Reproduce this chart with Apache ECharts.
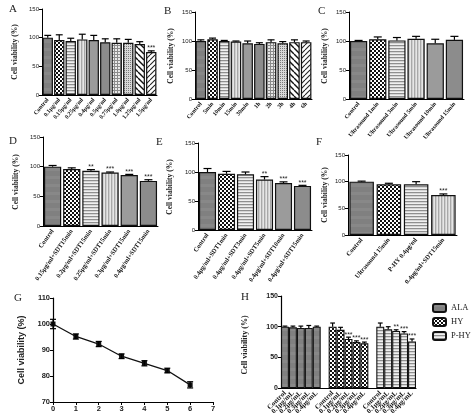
<!DOCTYPE html>
<html><head><meta charset="utf-8">
<script src="https://cdn.jsdelivr.net/npm/echarts@6/dist/echarts.min.js"></script>
<style>html,body{margin:0;padding:0;background:#fff}#c{width:474px;height:417px}</style>
</head><body><div id="c"></div>
<script>
// ---------- DATA ----------
const catsA = ['Control','0.1μg/ml','0.15μg/ml','0.25μg/ml','0.4μg/ml','0.5μg/ml','0.75μg/ml','1.0μg/ml','1.25μg/ml','1.5μg/ml'];
const valsA = [100,96,94,97,96,92,91,91,89,75];
const errA  = [4,9,5,9,8,6,7,6,4,2];
const starsA = ['','','','','','','','','','***'];

const catsB = ['Control','5min','10min','15min','30min','1h','2h','3h','4h','6h'];
const valsB = [100,103,100,99,96,95,98,96,98,98];
const errB  = [2,2,1,1,4,2,4,3,4,2];
const starsB = ['','','','','','','','','',''];

const catsC = ['Control','Ultrasound 1min','Ultrasound 3min','Ultrasound 5min','Ultrasound 10min','Ultrasound 15min'];
const valsC = [100,103,101,104,96,102];
const errC  = [1,4,5,4,7,6];
const starsC = ['','','','','',''];

const catsD = ['Control','0.15μg/ml+SDT15min','0.2μg/ml+SDT15min','0.25μg/ml+SDT15min','0.3μg/ml+SDT15min','0.4μg/ml+SDT15min'];
const valsD = [100,96,93,90,86,76];
const errD  = [2,2,2,1,1,2];
const starsD = ['','','**','***','***','***'];

const catsE = ['Control','0.4μg/ml+SDT1min','0.4μg/ml+SDT3min','0.4μg/ml+SDT5min','0.4μg/ml+SDT10min','0.4μg/ml+SDT15min'];
const valsE = [100,97,96,87,81,76];
const errE  = [6,4,4,5,2,1];
const starsE = ['','','','**','***','***'];

const catsF = ['Control','Ultrasound 15min','P-HY 0.4μg/ml','0.4μg/ml+SDT15min'];
const valsF = [100,95,95,75];
const errF  = [1,2,5,2];
const starsF = ['','','','***'];

const timeG = [0,1,2,3,4,5,6];
const valsG = [100,95.2,92.3,87.6,84.9,82.1,76.6];
const errG  = [1.8,1,1,0.9,1,0.9,1.2];

const catsH = ['Control','0.1μg/mL','0.2μg/mL','0.3μg/mL','0.4μg/mL','', 'Control','0.1μg/mL','0.2μg/mL','0.3μg/mL','0.4μg/mL','', 'Control','0.1μg/mL','0.2μg/mL','0.3μg/mL','0.4μg/mL'];
const groupsH = ['ALA','HY','P-HY'];
const valsALA = [100,99,98,98,100];
const errALA  = [1,2,3,4,1];
const starsALA = ['','','','',''];
const valsHY  = [100,95,80,75,73];
const errHY   = [6,4,3,2,2];
const starsHY = ['','','***','***','***'];
const valsPHY = [100,96,93,89,76];
const errPHY  = [6,4,2,3,4];
const starsPHY = ['','','**','***','***'];

const yTicksBar = [0,50,100,150];
const yTicksG = [70,80,90,100,110];

// ---------- PATTERNS ----------
function pat(w,h,draw){const c=document.createElement('canvas');c.width=w;c.height=h;const g=c.getContext('2d');draw(g,w,h);return {image:c,repeat:'repeat'};}
const P = {
  solid: pat(1,8,(g)=>{g.fillStyle='#808080';g.fillRect(0,0,1,8);g.fillStyle='#888';g.fillRect(0,0,1,3);}),
  checker: pat(4,4,(g)=>{g.fillStyle='#fff';g.fillRect(0,0,4,4);g.fillStyle='#111';g.fillRect(0,0,2,2);g.fillRect(2,2,2,2);}),
  hl: pat(1,3,(g)=>{g.fillStyle='#f0f0f0';g.fillRect(0,0,1,3);g.fillStyle='#8f8f8f';g.fillRect(0,0,1,1);g.fillStyle='#d5d5d5';g.fillRect(0,1,1,1);}),
  vl: pat(3,1,(g)=>{g.fillStyle='#e6e6e6';g.fillRect(0,0,3,1);g.fillStyle='#a8a8a8';g.fillRect(0,0,1,1);g.fillStyle='#cfcfcf';g.fillRect(1,0,1,1);}),
  gray2: '#9b9b9b',
  gray3: '#8c8c8c',
  grid: pat(3,3,(g)=>{g.fillStyle='#e8e8e8';g.fillRect(0,0,3,3);g.fillStyle='#8a8a8a';g.fillRect(0,0,3,1);g.fillRect(0,0,1,3);}),
  grid2: pat(2,2,(g)=>{g.fillStyle='#d8d8d8';g.fillRect(0,0,2,2);g.fillStyle='#7a7a7a';g.fillRect(0,0,1,1);}),
  diagB: pat(6,6,(g)=>{g.fillStyle='#fff';g.fillRect(0,0,6,6);g.strokeStyle='#111';g.lineWidth=1.4;for(const o of [-6,0,6]){g.beginPath();g.moveTo(o,0);g.lineTo(o+6,6);g.stroke();}}),
  diagF: pat(5,5,(g)=>{g.fillStyle='#fff';g.fillRect(0,0,5,5);g.strokeStyle='#222';g.lineWidth=1.1;for(const o of [-5,0,5]){g.beginPath();g.moveTo(o,5);g.lineTo(o+5,0);g.stroke();}})
};
const pat10 = [P.solid,P.checker,P.hl,P.vl,P.gray2,P.gray3,P.grid,P.grid2,P.diagB,P.diagF];
const pat6 = [P.solid,P.checker,P.hl,P.vl,P.gray2,P.gray3];
const pat4 = [P.solid,P.checker,P.hl,P.vl];

// ---------- BUILD ----------
const grids=[], xAxes=[], yAxes=[], series=[];
const serif='Liberation Serif', sans='Liberation Sans';

function errSeries(idx, data, stars, both, starSize){
  return {type:'custom', xAxisIndex:idx, yAxisIndex:idx, z:5, clip:false, silent:true,
    data:data,
    renderItem:function(params, api){
      const x=api.value(0), v=api.value(1), e=api.value(2);
      const top=api.coord([x,v+e]), base=api.coord([x,v]), bot=api.coord([x,v-e]);
      let cw = both ? 3 : Math.min(api.size([1,0])[0]*0.3,4);
      const st={stroke:'#000',lineWidth:1.2};
      const ch=[
        {type:'line',shape:{x1:top[0],y1:both?bot[1]:base[1],x2:top[0],y2:top[1]},style:st},
        {type:'line',shape:{x1:top[0]-cw,y1:top[1],x2:top[0]+cw,y2:top[1]},style:st}
      ];
      if(both) ch.push({type:'line',shape:{x1:top[0]-cw,y1:bot[1],x2:top[0]+cw,y2:bot[1]},style:st});
      const s = stars ? stars[params.dataIndex] : '';
      if(s) ch.push({type:'text',style:{text:s,x:top[0],y:top[1]+1,align:'center',verticalAlign:'bottom',fontSize:starSize||7,fontFamily:sans,fill:'#222'}});
      return {type:'group',children:ch};
    }};
}

function barPanel(g, cats, vals, errs, stars, pats, labelSize, rot){
  const idx=grids.length;
  grids.push({left:g[0],top:g[1],width:g[2],height:g[3],containLabel:false});
  xAxes.push({gridIndex:idx,type:'category',data:cats,
    axisLine:{lineStyle:{color:'#000',width:1}},
    axisTick:{alignWithLabel:true,length:3,lineStyle:{color:'#000'}},
    axisLabel:{rotate:rot||50,interval:0,fontSize:labelSize||6,fontFamily:serif,fontWeight:'bold',color:'#111',margin:4}});
  yAxes.push({gridIndex:idx,type:'value',min:0,max:150,interval:50,
    axisLine:{show:true,lineStyle:{color:'#000',width:1}},
    axisTick:{show:true,length:3,lineStyle:{color:'#000'}},
    axisLabel:{fontSize:6,fontFamily:sans,color:'#222',margin:3},
    splitLine:{show:false}});
  series.push({type:'bar',name:'p'+idx,xAxisIndex:idx,yAxisIndex:idx,barCategoryGap:'10%',
    data:vals.map((v,i)=>({value:v,itemStyle:{color:pats[i%pats.length]}})),
    itemStyle:{borderColor:'#111',borderWidth:1.2}});
  series.push(errSeries(idx, vals.map((v,i)=>[i,v,errs[i]]), stars, false));
}

barPanel([42,9,115,86], catsA, valsA, errA, starsA, pat10, 6, 50);
barPanel([195,12,117,87], catsB, valsB, errB, starsB, pat10, 6, 50);
barPanel([349,12,115,87], catsC, valsC, errC, starsC, pat6, 6, 50);
barPanel([43,137,115,89], catsD, valsD, errD, starsD, pat6, 6.5, 55);
barPanel([198,143,114,87], catsE, valsE, errE, starsE, pat6, 6.5, 55);
barPanel([348,155,109,80], catsF, valsF, errF, starsF, pat4, 6.5, 50);

// G line panel
(function(){
  const idx=grids.length;
  grids.push({left:53,top:298,width:160,height:104});
  xAxes.push({gridIndex:idx,type:'value',min:0,max:7,interval:1,
    axisLine:{lineStyle:{color:'#000',width:1.2}},axisTick:{length:3,lineStyle:{color:'#000'}},
    axisLabel:{fontSize:7.5,fontFamily:sans,fontWeight:'bold',color:'#222',margin:3},splitLine:{show:false}});
  yAxes.push({gridIndex:idx,type:'value',min:70,max:110,interval:10,
    axisLine:{show:true,lineStyle:{color:'#000',width:1.2}},axisTick:{show:true,length:3,lineStyle:{color:'#000'}},
    axisLabel:{fontSize:7.5,fontFamily:sans,fontWeight:'bold',color:'#222',margin:3},splitLine:{show:false}});
  series.push({type:'line',xAxisIndex:idx,yAxisIndex:idx,data:timeG.map((t,i)=>[t,valsG[i]]),
    symbol:'rect',symbolSize:5,lineStyle:{color:'#111',width:1.3},itemStyle:{color:'#111'}});
  series.push(errSeries(idx, timeG.map((t,i)=>[t,valsG[i],errG[i]]), null, true));
})();

// H grouped panel
(function(){
  const idx=grids.length;
  grids.push({left:281,top:296,width:135,height:97});
  xAxes.push({gridIndex:idx,type:'category',data:catsH,
    axisLine:{lineStyle:{color:'#000',width:1.2}},
    axisTick:{alignWithLabel:true,length:3,interval:(i,v)=>v!=='',lineStyle:{color:'#000'}},
    axisLabel:{rotate:45,interval:0,fontSize:7,fontFamily:serif,fontWeight:'bold',color:'#111',margin:4}});
  yAxes.push({gridIndex:idx,type:'value',min:0,max:150,interval:50,
    axisLine:{show:true,lineStyle:{color:'#000',width:1.2}},
    axisTick:{show:true,length:3,lineStyle:{color:'#000'}},
    axisLabel:{fontSize:7,fontFamily:sans,fontWeight:'bold',color:'#222',margin:3},
    splitLine:{show:false}});
  const groups=[[valsALA,errALA,starsALA,P.solid],[valsHY,errHY,starsHY,P.checker],[valsPHY,errPHY,starsPHY,P.hl]];
  groups.forEach((gr,gi)=>{
    const data=catsH.map(()=>'-');
    gr[0].forEach((v,j)=>{data[gi*6+j]=v;});
    series.push({type:'bar',name:groupsH[gi],xAxisIndex:idx,yAxisIndex:idx,barCategoryGap:'0%',barGap:'-100%',
      data:data,itemStyle:{color:gr[3],borderColor:'#111',borderWidth:1.1}});
    series.push(errSeries(idx, gr[0].map((v,j)=>[gi*6+j,v,gr[1][j]]), gr[2], false, 7));
  });
})();

const letters=[['A',13,10],['B',168,12],['C',322,12],['D',13,142],['E',160,143],['F',320,143],['G',18,299],['H',245,298]];
const ytitles=[[15,52,serif,7.5],[171,56,serif,7.5],[325,56,serif,7.5],[16,182,serif,7.5],[170,187,serif,7.5],[325,195,serif,7.5],[22,350,sans,9],[245,345,serif,8]];
const graphic=[];
letters.forEach(l=>graphic.push({type:'text',left:l[1]-4,top:l[2]-6,style:{text:l[0],font:'11px "Liberation Serif"',fill:'#222'}}));
ytitles.forEach(t=>graphic.push({type:'text',x:t[0],y:t[1],rotation:Math.PI/2,style:{text:'Cell viability (%)',fontFamily:t[2],fontWeight:'bold',fontSize:t[3],fill:'#222',align:'center',verticalAlign:'middle'}}));

const chart=echarts.init(document.getElementById('c'),null,{renderer:'canvas'});
chart.setOption({
  animation:false, backgroundColor:'#fff',
  grid:grids, xAxis:xAxes, yAxis:yAxes, series:series, graphic:graphic,
  legend:{data:groupsH,orient:'vertical',left:427,top:298,itemWidth:13,itemHeight:8,itemGap:4,
    textStyle:{fontSize:8.5,fontFamily:serif,color:'#222'}}
});
</script></body></html>
